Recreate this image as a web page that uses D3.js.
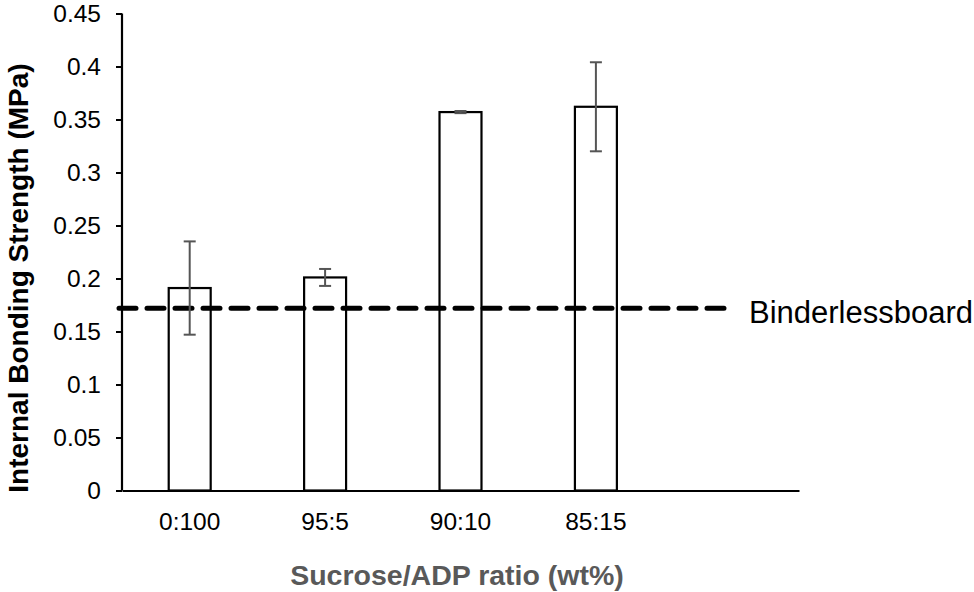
<!DOCTYPE html>
<html>
<head>
<meta charset="utf-8">
<script src="https://cdn.jsdelivr.net/npm/d3@7.9.0/dist/d3.min.js"></script>
<style>
  html, body { margin: 0; padding: 0; background: #fff; }
  svg { display: block; font-family: "Liberation Sans", Arial, sans-serif; }
</style>
</head>
<body>
<svg id="chart" width="974" height="592"></svg>
<script>
// data
const categories = ['0:100', '95:5', '90:10', '85:15', ''];
const strength = [0.191, 0.201, 0.357, 0.362];
const strengthErr = [0.044, 0.008, 0.001, 0.042];
const binderless = 0.172;
const yTicks = [0, 0.05, 0.1, 0.15, 0.2, 0.25, 0.3, 0.35, 0.4, 0.45];

const svg = d3.select('#chart');

let x = d3.scaleBand()
  .domain(categories)
  .range([122, 799])
  .paddingInner(0.69)
  .paddingOuter(0.345);

let y = d3.scaleLinear().domain([0, 0.45]).range([490.5, 13.5]);

// y axis
let yAxis = svg.append('g')
  .attr('transform', 'translate(122,0)')
  .call(d3.axisLeft(y).tickValues(yTicks).tickSize(6).tickPadding(15)
    .tickFormat(d => d3.format('')(+d.toFixed(2))));
yAxis.select('.domain').attr('stroke', '#000').attr('stroke-width', 2.2)
  .attr('d', `M0,${y(0)}V${y(0.45)}`);
yAxis.selectAll('.tick line').attr('stroke', '#000').attr('stroke-width', 2);
yAxis.selectAll('.tick text').attr('font-size', 24.5).attr('fill', '#000')
  .attr('font-family', '"Liberation Sans", Arial, sans-serif');

// bars
const bars = categories.slice(0, strength.length);
svg.selectAll('rect.bar')
  .data(bars)
  .join('rect')
  .attr('class', 'bar')
  .attr('x', d => x(d))
  .attr('width', x.bandwidth())
  .attr('y', (d, i) => y(strength[i]))
  .attr('height', (d, i) => y(0) - y(strength[i]))
  .attr('fill', '#fff')
  .attr('stroke', '#000')
  .attr('stroke-width', 2.2);

// binderless reference line (dashed)
svg.append('line')
  .attr('x1', x.range()[0] - 3)
  .attr('x2', x(categories[4]) + x.bandwidth() / 2)
  .attr('y1', y(binderless))
  .attr('y2', y(binderless))
  .attr('stroke', '#000')
  .attr('stroke-width', 5)
  .attr('stroke-linecap', 'round')
  .attr('stroke-dasharray', '17,11');

svg.append('text')
  .attr('x', 749)
  .attr('y', y(binderless) + 15)
  .attr('font-size', 31)
  .attr('fill', '#000')
  .text('Binderlessboard');

// error bars
const errG = svg.append('g').attr('stroke', '#555').attr('stroke-width', 2);
bars.forEach((c, i) => {
  let cx = x(c) + x.bandwidth() / 2;
  let top = y(strength[i] + strengthErr[i]);
  let bot = y(strength[i] - strengthErr[i]);
  errG.append('line').attr('x1', cx).attr('x2', cx).attr('y1', top).attr('y2', bot);
  errG.append('line').attr('x1', cx - 6).attr('x2', cx + 6).attr('y1', top).attr('y2', top);
  errG.append('line').attr('x1', cx - 6).attr('x2', cx + 6).attr('y1', bot).attr('y2', bot);
});

// x axis
let xAxis = svg.append('g')
  .attr('transform', `translate(0,${y(0)})`)
  .call(d3.axisBottom(x).tickSize(0).tickPadding(22));
xAxis.select('.domain').attr('stroke', '#000').attr('stroke-width', 2.2);
xAxis.selectAll('.tick text').attr('font-size', 24.5).attr('fill', '#000')
  .attr('font-family', '"Liberation Sans", Arial, sans-serif');

// axis titles
svg.append('text')
  .attr('x', 457)
  .attr('y', 585)
  .attr('text-anchor', 'middle')
  .attr('font-size', 28.5)
  .attr('font-weight', 'bold')
  .attr('fill', '#595959')
  .text('Sucrose/ADP ratio (wt%)');

svg.append('text')
  .attr('transform', 'translate(28,278) rotate(-90)')
  .attr('text-anchor', 'middle')
  .attr('font-size', 28)
  .attr('font-weight', 'bold')
  .attr('fill', '#000')
  .text('Internal Bonding Strength (MPa)');
</script>
</body>
</html>
